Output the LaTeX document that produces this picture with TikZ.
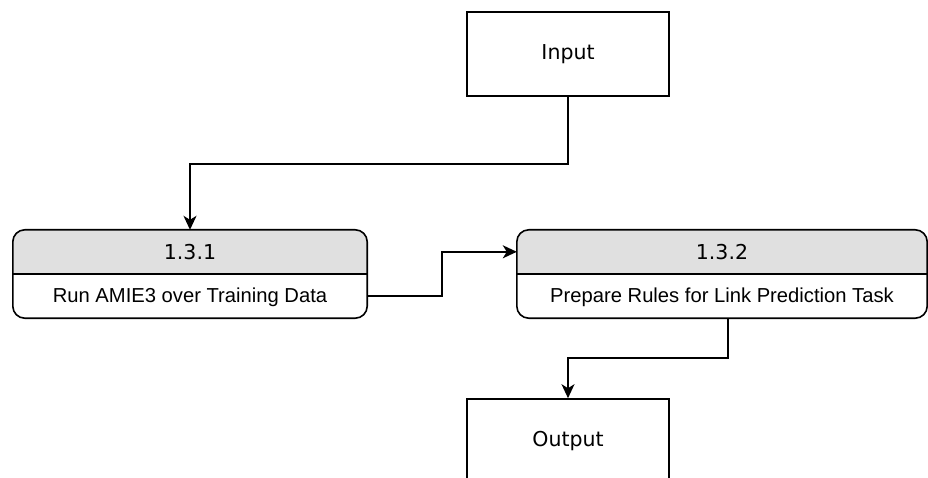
\documentclass[tikz,border=0pt]{standalone}
\usepackage{fontspec}
\setmainfont{DejaVu Sans}
\newfontfamily\bodyfont{Liberation Sans}
\usetikzlibrary{arrows.meta}
\definecolor{hdrgray}{HTML}{E0E0E0}
\tikzset{
  line/.style={line width=1.6pt, draw=black},
  arr/.style={line, -{Stealth[length=14pt,width=13pt,inset=4pt]}},
  iobox/.style={line, fill=white, minimum width=202pt, minimum height=84pt,
    font=\fontsize{20.5}{24}\selectfont, inner sep=0pt},
  procbox/.style={minimum height=88pt, inner sep=0pt},
  hdrtext/.style={font=\fontsize{20.5}{24}\selectfont, inner sep=0pt},
  bodytext/.style={font=\bodyfont\fontsize{20.2}{24}\selectfont, inner sep=0pt},
}
\begin{document}
\begin{tikzpicture}[x=1pt,y=-1pt]
\clip (0,0) rectangle (928,478);
\fill[white] (0,0) rectangle (928,478);

% terminal boxes
\node[iobox] (in) at (568,54) {Input};
\node[iobox] (out) at (568,441) {Output};

% process boxes: rounded outline, grey header band, divider
\node[procbox, minimum width=354pt] (p1) at (190,274) {};
\node[procbox, minimum width=410pt] (p2) at (722,274) {};
\foreach \p in {p1,p2}{
  \begin{scope}
    \clip[rounded corners=12pt] (\p.north west) rectangle (\p.south east);
    \fill[hdrgray] (\p.north west) rectangle (\p.east);
  \end{scope}
  \draw[line, rounded corners=12pt] (\p.north west) rectangle (\p.south east);
  \draw[line] (\p.west) -- (\p.east);
}
\node[hdrtext] (p1h) at (190,252) {1.3.1};
\node[bodytext] (p1b) at (190,297) {Run AMIE3 over Training Data};
\node[hdrtext] (p2h) at (722,252) {1.3.2};
\node[bodytext] (p2b) at (722,297) {Prepare Rules for Link Prediction Task};

% connectors
\draw[arr] (in.south) -- ++(0,67) -| (p1.north);
\draw[arr] ([yshift=22pt]p1.south east) -- ++(75,0) |- ([yshift=-22pt]p2.north west);
\draw[arr] ([xshift=6pt]p2.south) -- ++(0,40) -| (out.north);
\end{tikzpicture}
\end{document}
